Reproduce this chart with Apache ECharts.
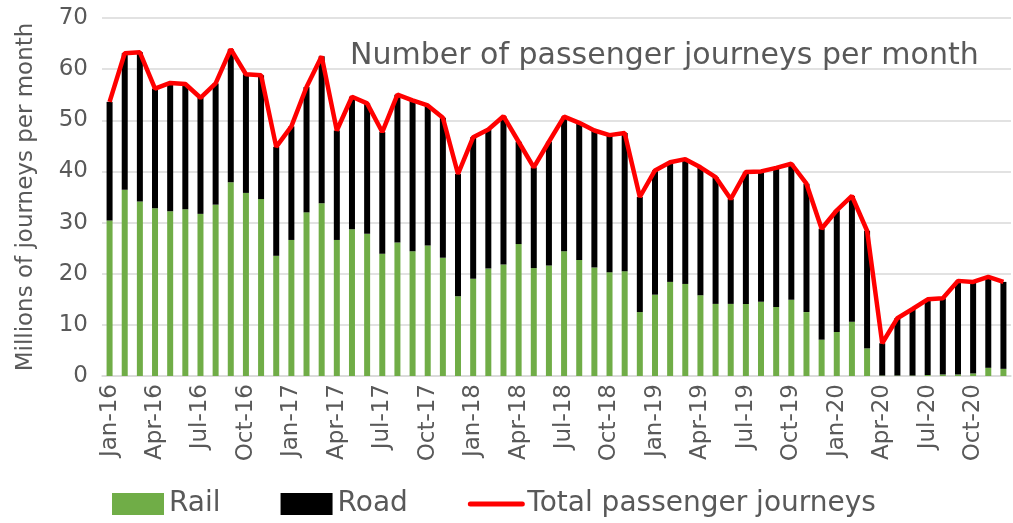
<!DOCTYPE html>
<html>
<head>
    <meta charset="utf-8">
    <title>Passenger journeys</title>
    <script src="https://cdn.jsdelivr.net/npm/echarts@6/dist/echarts.min.js"></script>
    <style type="text/css">
        html,body{margin:0;padding:0;background:#fff;}
        #main{width:1013px;height:523px;}
    </style>
</head>
<body>
    <div id="main"></div>
    <script type="text/javascript">
        // months Jan-16 .. Dec-20
        var months = ['Jan-16','Feb-16','Mar-16','Apr-16','May-16','Jun-16','Jul-16','Aug-16','Sep-16','Oct-16','Nov-16','Dec-16',
            'Jan-17','Feb-17','Mar-17','Apr-17','May-17','Jun-17','Jul-17','Aug-17','Sep-17','Oct-17','Nov-17','Dec-17',
            'Jan-18','Feb-18','Mar-18','Apr-18','May-18','Jun-18','Jul-18','Aug-18','Sep-18','Oct-18','Nov-18','Dec-18',
            'Jan-19','Feb-19','Mar-19','Apr-19','May-19','Jun-19','Jul-19','Aug-19','Sep-19','Oct-19','Nov-19','Dec-19',
            'Jan-20','Feb-20','Mar-20','Apr-20','May-20','Jun-20','Jul-20','Aug-20','Sep-20','Oct-20','Nov-20','Dec-20'];
        // millions of journeys
        var rail = [30.4,36.4,34.1,32.8,32.2,32.6,31.7,33.5,37.9,35.8,34.6,23.5,
            26.6,32.0,33.8,26.6,28.7,27.8,23.9,26.1,24.4,25.5,23.1,15.6,
            19.0,21.0,21.8,25.8,21.1,21.6,24.4,22.7,21.2,20.3,20.5,12.5,
            15.9,18.4,18.0,15.8,14.1,14.1,14.1,14.5,13.5,14.9,12.5,7.1,
            8.6,10.6,5.4,0.1,0.1,0.1,0.2,0.3,0.3,0.5,1.6,1.4];
        var road = [23.2,26.7,29.2,23.4,25.1,24.5,22.7,23.7,26.0,23.2,24.2,21.3,
            22.2,24.5,28.7,21.4,25.9,25.5,23.8,28.9,29.5,27.4,27.4,23.9,
            27.7,27.2,29.0,20.0,19.7,24.2,26.3,26.8,26.8,26.8,27.0,22.5,
            24.3,23.4,24.4,25.0,24.8,20.5,25.8,25.5,27.2,26.6,25.1,21.7,
            23.8,24.6,23.0,6.3,11.2,13.0,14.8,14.9,18.3,17.9,17.8,17.0];
        var total = [53.6,63.1,63.3,56.2,57.3,57.1,54.4,57.2,63.9,59.0,58.8,44.8,
            48.8,56.5,62.5,48.0,54.6,53.3,47.7,55.0,53.9,52.9,50.5,39.5,
            46.7,48.2,50.8,45.8,40.8,45.8,50.7,49.5,48.0,47.1,47.5,35.0,
            40.2,41.8,42.4,40.8,38.9,34.6,39.9,40.0,40.7,41.5,37.6,28.8,
            32.4,35.2,28.4,6.4,11.3,13.1,15.0,15.2,18.6,18.4,19.4,18.4];

        var font = 'DejaVu Sans';
        var grey = '#595959';
        var myChart = echarts.init(document.getElementById('main'));
        var option = {
            animation: false,
            textStyle: {fontFamily: font},
            title: {
                text: 'Number of passenger journeys per month',
                left: 345,
                top: 36,
                textStyle: {fontFamily: font, fontSize: 30, fontWeight: 'normal', color: grey}
            },
            grid: {left: 102, right: 2, top: 18, bottom: 147},
            legend: {
                left: 107,
                top: 485,
                itemWidth: 52,
                itemHeight: 22,
                itemGap: 60,
                textStyle: {fontFamily: font, fontSize: 28, color: grey},
                data: [
                    {name: 'Rail', icon: 'rect'},
                    {name: 'Road', icon: 'rect'},
                    {name: 'Total passenger journeys', itemStyle: {opacity: 0}, lineStyle: {width: 5, cap: 'round'}}
                ]
            },
            xAxis: {
                type: 'category',
                data: months,
                axisLine: {lineStyle: {color: '#d9d9d9', width: 1.5}},
                axisTick: {interval: 2, length: 9, lineStyle: {color: '#d9d9d9', width: 1.5}},
                axisLabel: {interval: 2, rotate: 90, fontSize: 23, color: grey, fontFamily: font, margin: 8}
            },
            yAxis: {
                type: 'value',
                min: 0,
                max: 70,
                interval: 10,
                name: 'Millions of journeys per month',
                nameLocation: 'middle',
                nameRotate: 90,
                nameGap: 64,
                nameTextStyle: {fontSize: 23, color: grey, fontFamily: font},
                axisLabel: {fontSize: 23, color: grey, fontFamily: font, margin: 14},
                splitLine: {lineStyle: {color: '#d9d9d9', width: 1.5}}
            },
            series: [
                {
                    name: 'Rail',
                    type: 'bar',
                    stack: 'j',
                    barWidth: 6,
                    itemStyle: {color: '#70ad47'},
                    data: rail
                },
                {
                    name: 'Road',
                    type: 'bar',
                    stack: 'j',
                    barWidth: 6,
                    itemStyle: {color: '#000000'},
                    data: road
                },
                {
                    name: 'Total passenger journeys',
                    type: 'line',
                    symbol: 'none',
                    lineStyle: {color: '#ff0000', width: 4.5},
                    itemStyle: {color: '#ff0000'},
                    data: total
                }
            ]
        };
        myChart.setOption(option);
    </script>
</body>
</html>
